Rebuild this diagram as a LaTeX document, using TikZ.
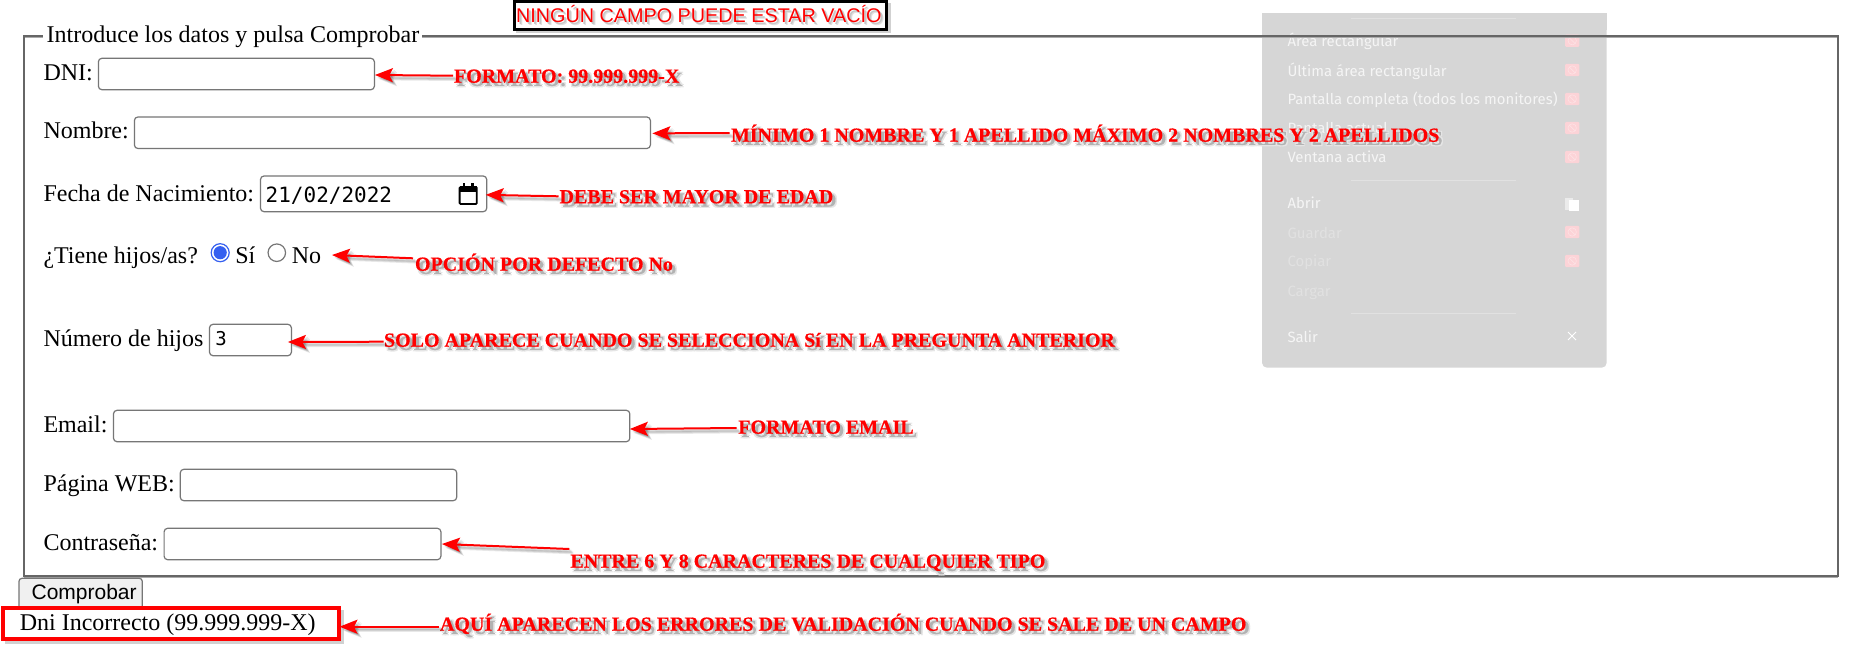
\documentclass[tikz,border=0pt]{standalone}
\usepackage{fontspec}
\setmainfont{Liberation Serif}
\newfontfamily\sansf{Liberation Sans}
\newfontfamily\monof{DejaVu Sans Mono}
\newfontfamily\panelf{Fira Sans}
\newfontfamily\notef[BoldFeatures={FakeBold=0.5}]{Liberation Serif}
\usetikzlibrary{arrows.meta,calc}
\definecolor{fieldgray}{HTML}{767676}
\definecolor{framedark}{HTML}{666666}
\definecolor{framelight}{HTML}{ABABAB}
\definecolor{panelbg}{HTML}{D6D6D6}
\definecolor{panelsep}{HTML}{E1E1E1}
\definecolor{pinkicon}{HTML}{FCD3D7}
\definecolor{radioblue}{HTML}{3560F0}
\newcommand\shcopy[4]{\rlap{\kern#2pt\raisebox{-#3pt}{\textcolor{black!#1}{#4}}}}
\newcommand\shadowed[1]{\leavevmode
  \shcopy{10}{1.8}{2.2}{#1}\shcopy{10}{4.6}{4.4}{#1}\shcopy{10}{1.8}{4.4}{#1}\shcopy{10}{4.6}{2.2}{#1}%
  \shcopy{30}{3.2}{3.2}{#1}#1}
\newcommand\softshadowed[1]{\leavevmode\shcopy{12}{3}{3}{#1}\shcopy{22}{2}{2}{#1}#1}
\newcommand\notefont{\notef\bfseries\fontsize{20}{24}\selectfont}
\tikzset{
  x=1pt,y=-1pt,
  every node/.style={inner sep=0pt,outer sep=0pt},
  field/.style={draw=fieldgray,line width=1.2pt,rounded corners=3.5pt,fill=white},
  lab/.style={anchor=base west,font=\fontsize{24}{28}\selectfont,text=black},
  note/.style={anchor=base west,font=\notefont,text=red,text height=14pt,text depth=0pt},
  arr/.style={-{Stealth[length=18pt,width=14pt,inset=3.5pt]},draw=red,fill=red,line width=2pt},
  arrsh/.style={-{Stealth[length=18pt,width=14pt,inset=3.5pt]},draw=black,fill=black,draw opacity=0.09,fill opacity=0.09,line width=2.6pt},
  paneltext/.style={anchor=base west,font=\panelf\fontsize{14.9}{19}\selectfont,text=white!96!black},
  paneldim/.style={anchor=base west,font=\panelf\fontsize{14.9}{19}\selectfont,text=panelsep},
  psep/.style={draw=panelsep,line width=0.8pt},
  pinkbox/.style={fill=pinkicon,draw=none,minimum width=14.2pt,minimum height=12.2pt,rounded corners=1pt},
}
\newcommand\notearrow[2]{%
  \foreach \ss in {2,3,4}{\draw[arrsh,transform canvas={shift={(\ss pt,-\ss pt)}}] #1 -- #2;}
  \draw[arr] #1 -- #2;}
\newcommand\blockicon[2]{%
  \node[pinkbox] (#1) at (1572.2,#2) {};
  \draw[draw=white!40!pinkicon,line width=0.5pt] (1572.2,#2) circle[radius=4.2pt];
  \draw[draw=white!40!pinkicon,line width=0.5pt] ($(1572.2,#2)+(-3,-3)$) -- ($(1572.2,#2)+(3,3)$);}
\begin{document}
\begin{tikzpicture}
\useasboundingbox (0,0) rectangle (1850,648);
\fill[white] (0,0) rectangle (1850,648);

% overlay menu (behind frame line and notes)
\fill[panelbg,rounded corners=5pt] (1262,20) -- (1262,367.7) -- (1606.7,367.7) -- (1606.7,20);
\fill[panelbg] (1262,13) rectangle (1606.7,30);
\draw[psep] (1351,18.3) -- (1515.5,18.3);
\draw[psep] (1351,180.3) -- (1515.5,180.3);
\draw[psep] (1351,313.3) -- (1515.5,313.3);
\node[paneltext] (m1) at (1287.5,46.7) {Área rectangular};
\node[paneltext] (m2) at (1287.5,76) {Última área rectangular};
\node[paneltext] (m3) at (1287.5,104.7) {Pantalla completa (todos los monitores)};
\node[paneltext] (m4) at (1287.5,133.3) {Pantalla actual};
\node[paneltext] (m5) at (1287.5,162.7) {Ventana activa};
\node[paneltext] (m6) at (1287.5,208.7) {Abrir};
\node[paneldim] (m7) at (1287.5,238) {Guardar};
\node[paneldim] (m8) at (1287.5,266.7) {Copiar};
\node[paneldim] (m9) at (1287.5,296) {Cargar};
\node[paneltext] (m10) at (1287.5,342) {Salir};
\blockicon{i1}{40.7}
\blockicon{i2}{70}
\blockicon{i3}{99}
\blockicon{i4}{128}
\blockicon{i5}{157}
\blockicon{i7}{232}
\blockicon{i8}{261}
\fill[white!92!black] (1565,197.5) rectangle (1573,209.5);
\fill[white] (1569,200) rectangle (1579.3,210.5);
\draw[white,line width=0.9pt] (1568,332) -- (1576,340);
\draw[white,line width=0.9pt] (1576,332) -- (1568,340);

% fieldset
\node[lab] (legend) at (46.7,42.7) {Introduce los datos y pulsa Comprobar};
\draw[framelight,line width=1pt] (42.7,37.6) -- (24,37.6);
\draw[framelight,line width=1pt] (422,37.6) -- (1837,37.6);
\draw[framelight,line width=1pt] (24,577.2) -- (1838,577.2);
\draw[framedark,line width=2.1pt] (42.7,36) -- (23.7,36) -- (23.7,575.7) -- (1838,575.7) -- (1838,36) -- (422,36);

% banner
\fill[black,opacity=0.18] (515.5,2.5) rectangle (891,33);
\node[draw=black,line width=3pt,fill=white,minimum width=372pt,minimum height=27.5pt,anchor=north west] (banner) at (514.3,1.7) {};
\node[anchor=base west,font=\sansf\fontsize{19.8}{24}\selectfont,text=red] (bannertext) at (516,22) {\softshadowed{NINGÚN CAMPO PUEDE ESTAR VACÍO}};

% fields
\node[lab] (ldni) at (43.5,80) {DNI:};
\node[field,anchor=north west,minimum width=276pt,minimum height=31.4pt] (idni) at (98.4,58.3) {};
\node[lab] (lnom) at (43.5,138.7) {Nombre:};
\node[field,anchor=north west,minimum width=516pt,minimum height=31.5pt] (inom) at (134.4,117) {};
\node[lab] (lfec) at (43.5,201) {Fecha de Nacimiento:};
\node[field,anchor=north west,minimum width=226.2pt,minimum height=35.7pt] (ifec) at (260.5,176) {};
\node[anchor=base west,font=\monof\fontsize{21}{25}\selectfont] (dfec) at (265.7,202) {21/02/2022};
% calendar icon
\draw[black,line width=1.8pt,rounded corners=1pt] (459.6,187) rectangle (476.8,204);
\fill[black] (459.6,186) rectangle (476.8,191.5);
\fill[black] (462.8,183.3) rectangle (465.3,187);
\fill[black] (471,183.3) rectangle (473.5,187);

\node[lab] (lhij) at (43.5,263.3) {¿Tiene hijos/as?};
\node[draw=radioblue,line width=1.2pt,fill=white,circle,minimum size=18pt] (rsi) at (220.2,252.7) {};
\fill[radioblue] (rsi.center) circle[radius=6.6pt];
\node[lab] (lsi) at (235.3,263.3) {Sí};
\node[draw=fieldgray,line width=1.2pt,fill=white,circle,minimum size=17.5pt] (rno) at (276.8,252.7) {};
\node[lab] (lno) at (291.8,263.3) {No};

\node[lab] (lnum) at (43.5,346) {Número de hijos};
\node[field,anchor=north west,minimum width=81.9pt,minimum height=31.4pt] (inum) at (209.5,324.3) {};
\node[anchor=base west,font=\monof\fontsize{19}{23}\selectfont] (dnum) at (215.4,345) {3};

\node[lab] (lema) at (43.5,432.3) {Email:};
\node[field,anchor=north west,minimum width=516.3pt,minimum height=31.4pt] (iema) at (113.5,410.3) {};
\node[lab] (lweb) at (43.5,491.3) {Página WEB:};
\node[field,anchor=north west,minimum width=276.4pt,minimum height=31.4pt] (iweb) at (180.3,469.3) {};
\node[lab] (lpas) at (43.5,550.3) {Contraseña:};
\node[field,anchor=north west,minimum width=276.8pt,minimum height=31.4pt] (ipas) at (164.1,528.3) {};

% button and error box
\node[draw=fieldgray,line width=1.2pt,fill=black!6,rounded corners=3pt,anchor=north west,minimum width=123.3pt,minimum height=31pt] (btn) at (19,578.3) {};
\node[anchor=base west,font=\sansf\fontsize{21}{25}\selectfont] (btnt) at (31.6,599.3) {Comprobar};
\fill[black,opacity=0.18] (4.5,610) rectangle (344,644);
\node[draw=red,line width=3.6pt,fill=white,anchor=north west,minimum width=336pt,minimum height=31pt] (err) at (3,607.8) {};
\node[lab] (errt) at (19.8,630) {Dni Incorrecto (99.999.999-X)};

% notes
\node[note] (n1) at (454,82.7) {\shadowed{FORMATO: 99.999.999-X}};
\node[note] (n2) at (731,141.7) {\shadowed{MÍNIMO 1 NOMBRE Y 1 APELLIDO MÁXIMO 2 NOMBRES Y 2 APELLIDOS}};
\node[note] (n3) at (559.5,203.3) {\shadowed{DEBE SER MAYOR DE EDAD}};
\node[note] (n4) at (415,270.7) {\shadowed{OPCIÓN POR DEFECTO No}};
\node[note] (n5) at (384,346.7) {\shadowed{SOLO APARECE CUANDO SE SELECCIONA Sí EN LA PREGUNTA ANTERIOR}};
\node[note] (n6) at (738.3,433.7) {\shadowed{FORMATO EMAIL}};
\node[note] (n7) at (570.4,567.7) {\shadowed{ENTRE 6 Y 8 CARACTERES DE CUALQUIER TIPO}};
\node[note] (n8) at (440,630.7) {\shadowed{AQUÍ APARECEN LOS ERRORES DE VALIDACIÓN CUANDO SE SALE DE UN CAMPO}};

% arrows
\coordinate (tno) at (332,255);
\notearrow{([xshift=-1pt]n1.west)}{([yshift=-1pt,xshift=0.5pt]idni.east)}
\notearrow{([xshift=-1.5pt,yshift=1.7pt]n2.west)}{([xshift=2pt,yshift=-0.6pt]inom.east)}
\notearrow{([xshift=-1pt]n3.west)}{([xshift=-1pt,yshift=-1pt]ifec.east)}
\notearrow{([xshift=-2pt,yshift=5.4pt]n4.west)}{(tno)}
\notearrow{([xshift=-0.5pt,yshift=-2pt]n5.west)}{([xshift=-3.5pt,yshift=-2pt]inum.east)}
\notearrow{([xshift=-1.8pt,yshift=-1.3pt]n6.west)}{([yshift=-3pt]iema.east)}
\notearrow{([xshift=-1pt,yshift=11.7pt]n7.west)}{([xshift=1pt]ipas.east)}
\notearrow{([xshift=-1pt,yshift=-3pt]n8.west)}{([xshift=0.5pt,yshift=-3.4pt]err.east)}
\end{tikzpicture}
\end{document}
